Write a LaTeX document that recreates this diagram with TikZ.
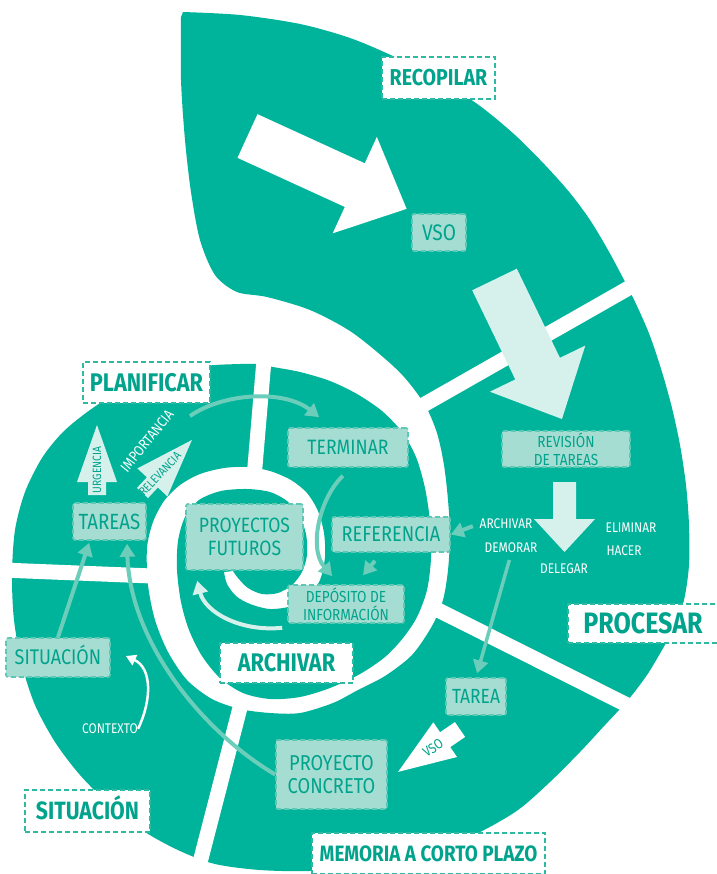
\documentclass[tikz,border=0pt]{standalone}
\usepackage{fontspec}
\setmainfont{Fira Sans}[FakeStretch=0.85]
\usetikzlibrary{arrows.meta,calc}
\definecolor{teal1}{HTML}{00B39B}
\definecolor{tealT}{HTML}{00A38B}
\definecolor{boxF}{HTML}{A5DDD3}
\definecolor{boxL}{HTML}{5DC8B4}
\definecolor{headL}{HTML}{2DB9A2}
\definecolor{mint}{HTML}{D6F1EC}
\definecolor{connC}{HTML}{6CCDBA}
\newcommand\fatarrow[8]{%
  \begin{scope}[shift={(#1,#2)},rotate={-(#3)}]
    \fill[#8] (0,-#5) -- ({#4-#6},-#5) -- ({#4-#6},-#7) -- (#4,0) -- ({#4-#6},#7) -- ({#4-#6},#5) -- (0,#5) -- cycle;
  \end{scope}}
\tikzset{
  headbox/.style={draw=headL, fill=white, text=tealT, dash pattern=on 5pt off 3pt, line width=1.8pt, inner sep=0pt, text depth=0pt},
  lbox/.style={draw=boxL, fill=boxF, text=tealT, dash pattern=on 5pt off 3pt, line width=1.6pt, rounded corners=2pt, inner sep=0pt, align=center, font=\fontsize{20.7}{23}\selectfont},
  onebox/.style={lbox, text depth=0pt},
  smallbox/.style={lbox, font=\fontsize{16}{18}\selectfont},
  hsz/.style 2 args={font=\bfseries\fontsize{#1}{#1}\selectfont, text height=#2pt},
  rsz/.style 2 args={font=\fontsize{#1}{#1}\selectfont, text height=#2pt},
  wlabel/.style={text=white, inner sep=1pt, font=\fontsize{14}{14}\selectfont},
  alabel/.style={text=tealT, inner sep=0pt, font=\fontsize{12}{12}\selectfont},
  connarrow/.style={draw=connC, line width=4pt, -{Triangle[length=13pt,width=15pt]}},
  sepbar/.style={draw=white, line width=15pt},
}
\begin{document}
\begin{tikzpicture}[x=1pt,y=-1pt]
\useasboundingbox (0,0) rectangle (716,874);
\fill[white] (0,0) rectangle (716,874);
% spiral body
\fill[teal1]
 plot[smooth,tension=0.5] coordinates {(183,12) (240,15) (300,24) (350,38) (395,57) (440,80) (480,106) (515,135) (545,165) (570,193) (590,220) (608,250) (623,278) (637,306) (650,336) (662,372) (672,408) (680,445) (686,485) (689,525) (689,565) (684,600) (674,628) (662,650) (647,675) (628,700) (605,725) (580,752) (550,782) (518,810) (480,832) (440,848) (400,858) (355,866) (310,871) (260,870) (215,864) (180,851) (145,832) (110,805) (80,775) (55,742) (35,705) (22,665) (14,620) (12,575) (15,530) (25,492) (42,458) (63,432) (90,410) (122,390) (160,375) (205,366) (240,364) (257,364)}
 -- plot[smooth,tension=0.5] coordinates {(257,364) (273,367) (300,372) (330,381) (357,394) (382,411) (402,432) (416,457) (425,488) (430,522) (431,558) (427,590) (417,617) (403,638) (385,657) (360,674) (330,688) (300,697) (270,699) (243,693) (220,678) (202,656) (189,630) (181,602) (177,570) (178,541) (185,517) (199,500) (221,491) (247,489) (270,492) (287,501) (299,515) (306,534) (307,555) (302,572) (292,585) (278,593) (262,594) (248,588) (238,578) (233,571)}
 -- plot[smooth,tension=0.5] coordinates {(224,572) (227,584) (236,596) (250,604) (270,609) (292,606) (309,596) (320,580) (325,557) (324,533) (318,511) (307,493) (291,480) (270,471) (247,467) (224,468) (200,474) (180,485) (164,501) (153,522) (147,548) (148,585) (155,620) (168,652) (187,680) (212,699) (240,709) (270,713) (300,713) (333,703) (358,690) (385,676) (412,655) (432,626) (443,600) (448,570) (450,535) (448,500) (444,465) (437,433) (425,405) (405,378) (383,357) (350,331) (310,310) (267,297) (237,292) (215,275) (200,240) (191,192) (185,140) (181,80) (181,17)}
 -- cycle;
% separators
\draw[sepbar] (418,408) -- (655,273);
\draw[sepbar] (436,609) -- (645,714);
\draw[sepbar] (242,700) -- (197,874);
\draw[sepbar] (2,570) -- (152,576);
\draw[sepbar] (265,348) -- (254,478);
% big arrows
\fatarrow{247.5}{136}{24.6}{175}{24}{57}{53}{white}
\fatarrow{494.5}{279.5}{64.2}{155}{24.8}{56}{53}{mint}
\fatarrow{564.5}{482}{90}{70}{11.5}{33}{30.5}{mint}
\fatarrow{460}{729.5}{145.6}{75}{9}{57}{21}{white}
\fatarrow{97}{495}{-90}{70}{9}{57}{20}{mint}
\fatarrow{142.5}{493}{-47}{72.5}{7.5}{58}{20.5}{mint}
% arrow labels
\node[alabel, rotate=90] (lUrg) at (97,470) {URGENCIA};
\node[alabel, rotate=47] (lRel) at (160,474) {RELEVANCIA};
\node[alabel, rotate=34, font=\fontsize{14}{14}\selectfont] (lVso) at (433,748) {VSO};
% white labels
\node[wlabel] (lArch) at (506,524) {ARCHIVAR};
\node[wlabel] (lDem) at (511,548) {DEMORAR};
\node[wlabel] (lDel) at (564,569) {DELEGAR};
\node[wlabel] (lElim) at (631,528) {ELIMINAR};
\node[wlabel] (lHac) at (624,551) {HACER};
\node[wlabel] (lCtx) at (110,729) {CONTEXTO};
\node[wlabel, rotate=51, font=\fontsize{14.5}{14.5}\selectfont] (lImp) at (147,441) {IMPORTANCIA};
% boxes
\node[headbox, hsz={23}{15.8}, minimum width=113, minimum height=42] (recop) at (438.5,78) {RECOPILAR};
\node[onebox, rsz={22.5}{15.5}, minimum width=54, minimum height=37] (vso) at (439,232.5) {VSO};
\node[smallbox, minimum width=128, minimum height=36] (rev) at (566,449) {REVISIÓN\\DE TAREAS};
\node[onebox, rsz={20.8}{14.3}, minimum width=120, minimum height=39] (term) at (348,447.5) {TERMINAR};
\node[onebox, rsz={21.4}{14.7}, minimum width=118, minimum height=35] (ref) at (391,534.5) {REFERENCIA};
\node[lbox, minimum width=117, minimum height=66] (pf) at (244.5,537) {PROYECTOS\\FUTUROS};
\node[smallbox, minimum width=116, minimum height=38] (dep) at (346,604) {DEPÓSITO DE\\INFORMACIÓN};
\node[headbox, hsz={25.5}{17.6}, minimum width=133, minimum height=40] (arch) at (286.5,663) {ARCHIVAR};
\node[onebox, rsz={22}{15.2}, minimum width=73, minimum height=37] (tareas) at (109.5,521.5) {TAREAS};
\node[headbox, hsz={25.5}{17.6}, minimum width=127, minimum height=41] (plan) at (146.5,382.5) {PLANIFICAR};
\node[onebox, rsz={21.2}{14.6}, minimum width=104, minimum height=39] (sit) at (58,657.5) {SITUACIÓN};
\node[headbox, hsz={25}{17.2}, minimum width=125, minimum height=42] (sitH) at (87.5,811) {SITUACIÓN};
\node[lbox, font=\fontsize{21.5}{23}\selectfont, minimum width=111, minimum height=69] (pc) at (331.5,774.5) {PROYECTO\\CONCRETO};
\node[onebox, rsz={20.5}{14.1}, minimum width=60, minimum height=37] (tarea) at (476,696.5) {TAREA};
\node[headbox, hsz={22.2}{15.3}, minimum width=233, minimum height=41] (mem) at (428.5,853.5) {MEMORIA A CORTO PLAZO};
\node[headbox, hsz={29.5}{20.3}, minimum width=150, minimum height=39] (proc) at (643,623.5) {PROCESAR};
% connectors
\coordinate (impEnd) at (190,416);
\draw[connarrow, shorten <=6pt] (lArch.west) -- (ref.east);
\draw[connarrow, line width=3.5pt, shorten <=6pt, shorten >=4pt] (lDem.south) -- (tarea.north);
\draw[connarrow] (impEnd) .. controls (225,392) and (285,390) .. ($(term.north west)+(32,-10)$);
\draw[connarrow] ($(term.south)+(-5,8)$) .. controls (320,497) and (308,548) .. ($(dep.north west)+(45,-8)$);
\draw[connarrow] ($(ref.south)+(-16,8)$) -- ($(dep.north)+(17,-9)$);
\draw[connarrow] (pc.west) .. controls (200,730) and (130,640) .. ($(tareas.south)+(17.5,3)$);
\draw[connarrow] (sit.north) -- ($(tareas.south west)+(17,2)$);
\draw[draw=white, line width=2.5pt, -{Triangle[length=10pt,width=11pt]}] ($(lCtx.north east)+(-1,6)$) .. controls (152,700) and (152,668) .. ($(sit.east)+(15,-1.5)$);
\draw[draw=mint, line width=4pt, -{Triangle[length=13pt,width=15pt]}] ($(dep.south west)+(-5,4)$) .. controls (240,632) and (205,612) .. ($(pf.south west)+(12,10)$);
\end{tikzpicture}
\end{document}
